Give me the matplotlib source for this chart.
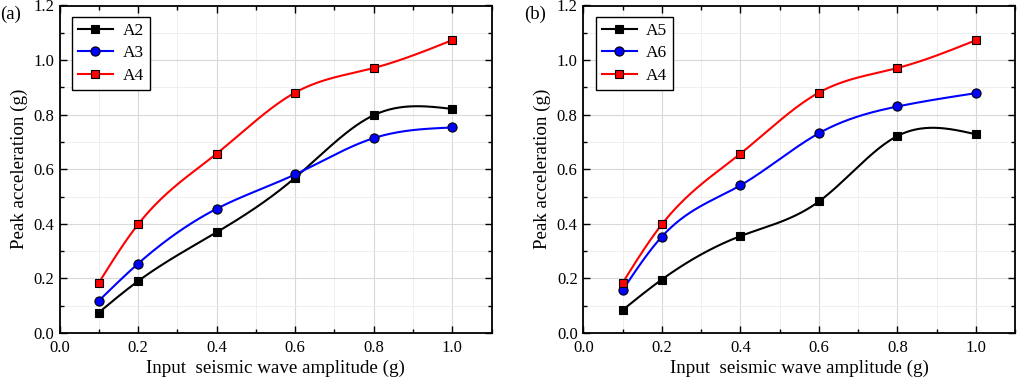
import numpy as np
import matplotlib
matplotlib.use("Agg")
import matplotlib.pyplot as plt
from matplotlib.ticker import MultipleLocator, FormatStrFormatter

plt.rcParams['font.family'] = ['Liberation Serif', 'DejaVu Serif']
plt.rcParams['mathtext.fontset'] = 'stix'

amplitude = [0.1, 0.2, 0.4, 0.6, 0.8, 1.0]

A2 = [0.075, 0.190, 0.369, 0.569, 0.798, 0.821]
A3 = [0.118, 0.254, 0.455, 0.581, 0.714, 0.753]
A4 = [0.184, 0.398, 0.657, 0.881, 0.971, 1.073]
A5 = [0.084, 0.196, 0.355, 0.482, 0.722, 0.728]
A6 = [0.157, 0.353, 0.541, 0.732, 0.830, 0.879]

panel_a = [("A2", A2, "black", "s"), ("A3", A3, "blue", "o"), ("A4", A4, "red", "s")]
panel_b = [("A5", A5, "black", "s"), ("A6", A6, "blue", "o"), ("A4", A4, "red", "s")]
panel_tags = ["(a)", "(b)"]


def natural_spline(x, y, n=300):
    x = np.asarray(x, float)
    y = np.asarray(y, float)
    m = len(x)
    h = np.diff(x)
    A = np.zeros((m, m))
    b = np.zeros(m)
    A[0, 0] = 1
    A[-1, -1] = 1
    for i in range(1, m - 1):
        A[i, i - 1] = h[i - 1]
        A[i, i] = 2 * (h[i - 1] + h[i])
        A[i, i + 1] = h[i]
        b[i] = 3 * ((y[i + 1] - y[i]) / h[i] - (y[i] - y[i - 1]) / h[i - 1])
    c = np.linalg.solve(A, b)
    xs = np.linspace(x[0], x[-1], n)
    ys = np.empty_like(xs)
    for k, xv in enumerate(xs):
        i = min(np.searchsorted(x, xv, side='right') - 1, m - 2)
        dx = xv - x[i]
        bi = (y[i + 1] - y[i]) / h[i] - h[i] * (2 * c[i] + c[i + 1]) / 3
        di = (c[i + 1] - c[i]) / (3 * h[i])
        ys[k] = y[i] + bi * dx + c[i] * dx ** 2 + di * dx ** 3
    return xs, ys


W, H = 1017, 378
fig = plt.figure(figsize=(W / 100, H / 100), dpi=100)
ax_w = 432 / W
ax_h = (333 - 5.5) / H
bottom = (H - 333) / H
lefts = [59.5 / W, 583.3 / W]

SQ_MS = 5.8
CI_MS = 6.6

for li, (series, tag) in enumerate(zip([panel_a, panel_b], panel_tags)):
    ax = fig.add_axes([lefts[li], bottom, ax_w, ax_h])
    handles = []
    for name, vals, col, mk in series:
        ms = CI_MS if mk == 'o' else SQ_MS
        xs, ys = natural_spline(amplitude, vals)
        ax.plot(xs, ys, color=col, lw=1.5, zorder=3)
        ax.plot(amplitude, vals, linestyle='none', marker=mk, ms=ms,
                mfc=col, mec='black', mew=0.8, zorder=4)
        h, = ax.plot([], [], color=col, lw=1.5, marker=mk, ms=ms,
                     mfc=col, mec='black', mew=0.8)
        handles.append((h, name))
    ax.set_xlim(0, 1.1)
    ax.set_ylim(0, 1.2)
    ax.xaxis.set_minor_locator(MultipleLocator(0.1))
    ax.yaxis.set_major_locator(MultipleLocator(0.2))
    ax.yaxis.set_minor_locator(MultipleLocator(0.1))
    ax.set_xticks([0.0, 0.2, 0.4, 0.6, 0.8, 1.0])
    ax.xaxis.set_major_formatter(FormatStrFormatter('%.1f'))
    ax.yaxis.set_major_formatter(FormatStrFormatter('%.1f'))
    ax.grid(True, which='major', color='#d9d9d9', lw=0.8, zorder=0)
    ax.grid(True, which='minor', color='#ececec', lw=0.6, zorder=0)
    ax.set_axisbelow(True)
    ax.tick_params(which='both', direction='in', top=True, right=True,
                   labelsize=12, colors='black')
    ax.tick_params(axis='x', which='both', pad=5)
    ax.tick_params(axis='y', which='both', pad=4)
    ax.tick_params(which='major', length=5, width=1)
    ax.tick_params(which='minor', length=3, width=1)
    for s in ax.spines.values():
        s.set_linewidth(1.3)
    ax.set_xlabel("Input  seismic wave amplitude (g)", fontsize=13.7, labelpad=3)
    ax.set_ylabel("Peak acceleration (g)", fontsize=13.7, labelpad=4)
    leg = ax.legend([h for h, _ in handles], [n for _, n in handles],
                    loc='upper left', bbox_to_anchor=(12.5 / 432, 1 - 11.5 / 327.5),
                    borderaxespad=0, fontsize=12.5,
                    frameon=True, fancybox=False, framealpha=1, edgecolor='black',
                    handlelength=2.0, borderpad=0.35, labelspacing=0.35,
                    handletextpad=0.55)
    leg.get_frame().set_linewidth(1.0)
    fig.text(lefts[li] - 59 / W, 1 - 14 / H, tag, fontsize=13.5, ha='left', va='center')

fig.savefig("out.png", dpi=100)
